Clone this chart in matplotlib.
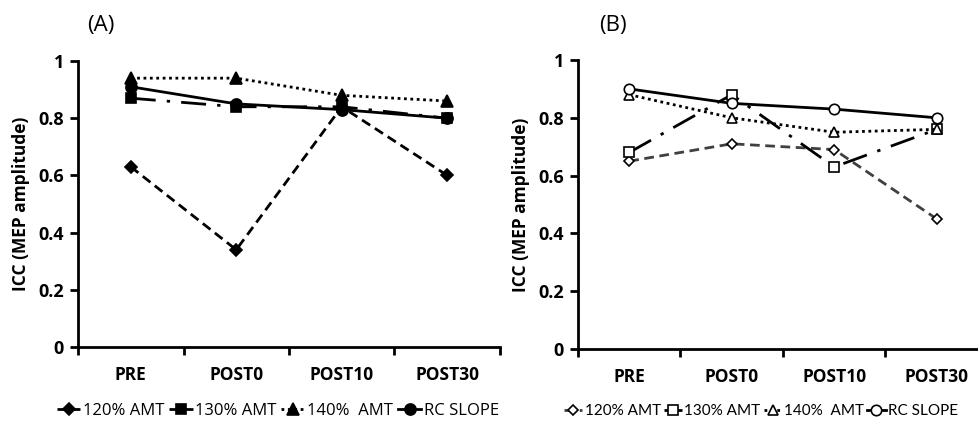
import matplotlib
matplotlib.use("Agg")
import matplotlib.pyplot as plt

plt.rcParams['font.family'] = ['Open Sans', 'DejaVu Sans']

timepoints = ['PRE', 'POST0', 'POST10', 'POST30']
series_labels = ['120% AMT', '130% AMT', '140%  AMT', 'RC SLOPE']

# panel A: filled markers
a_120 = [0.63, 0.34, 0.84, 0.60]
a_130 = [0.87, 0.84, 0.84, 0.80]
a_140 = [0.94, 0.94, 0.88, 0.86]
a_rc = [0.91, 0.85, 0.83, 0.80]

# panel B: open markers
b_120 = [0.65, 0.71, 0.69, 0.45]
b_130 = [0.68, 0.88, 0.63, 0.76]
b_140 = [0.88, 0.80, 0.75, 0.76]
b_rc = [0.90, 0.85, 0.83, 0.80]

yticks = [0, 0.2, 0.4, 0.6, 0.8, 1]
ytick_labels = ['0', '0.2', '0.4', '0.6', '0.8', '1']

markers = ['D', 's', '^', 'o']
styles = [(0, (3.5, 2)), (0, (9, 4, 1.2, 4)), (0, (1, 1.3)), '-']
msizes = [6, 7.5, 8, 8]

W, H = 979, 426
fig = plt.figure(figsize=(W / 100, H / 100), dpi=100)


def panel(rect, data, filled, tag, tag_xy, leg_xy, colors, leg_font, leg_size, colsp, hlen):
    ax = fig.add_axes([rect[0] / W, 1 - rect[3] / H, (rect[2] - rect[0]) / W,
                       (rect[3] - rect[1]) / H])
    x = list(range(len(timepoints)))
    for vals, m, ls, ms, lab, c in zip(data, markers, styles, msizes, series_labels, colors):
        ax.plot(x, vals, color=c, linestyle=ls, linewidth=2, marker=m,
                markersize=ms if filled else ms - 0.5,
                markerfacecolor='black' if filled else 'white',
                markeredgecolor='black', markeredgewidth=1.2, label=lab,
                clip_on=False)
    ax.set_xlim(-0.5, 3.5)
    ax.set_ylim(0, 1)
    ax.set_xticks(x)
    ax.set_xticklabels(timepoints, fontweight='bold', fontsize=12.5)
    ax.set_xticks([-0.5, 0.5, 1.5, 2.5, 3.5], minor=True)
    ax.tick_params(axis='x', which='major', length=0, pad=14)
    ax.tick_params(axis='x', which='minor', length=6, width=2, direction='out')
    ax.set_yticks(yticks)
    ax.set_yticklabels(ytick_labels, fontweight='bold', fontsize=13)
    ax.tick_params(axis='y', length=6, width=2, direction='out', pad=4)
    for s in ['top', 'right']:
        ax.spines[s].set_visible(False)
    for s in ['left', 'bottom']:
        ax.spines[s].set_linewidth(2)
    ax.set_ylabel('ICC (MEP amplitude)', fontweight='bold', fontsize=12.5, labelpad=6)
    fig.text(tag_xy[0] / W, 1 - tag_xy[1] / H, tag, fontsize=16, ha='center', va='center')
    ax.legend(loc='center left', bbox_to_anchor=(leg_xy[0] / W, 1 - leg_xy[1] / H),
              bbox_transform=fig.transFigure, ncol=4, frameon=False,
              prop={'family': leg_font, 'size': leg_size},
              handlelength=hlen, handletextpad=0.15, columnspacing=colsp, borderpad=0,
              borderaxespad=0)
    return ax


panel((78, 61, 500, 347), [a_120, a_130, a_140, a_rc], True, '(A)', (101, 25), (57, 411),
      ['black', 'black', 'black', 'black'], ['Open Sans', 'DejaVu Sans'], 12, 0.3, 1.4)
panel((578, 60, 988, 349), [b_120, b_130, b_140, b_rc], False, '(B)', (613, 25), (564, 411),
      ['#404040', 'black', 'black', 'black'], ['Lato', 'DejaVu Sans'], 11, 0.2, 1.2)

fig.savefig('out.png', dpi=100)
